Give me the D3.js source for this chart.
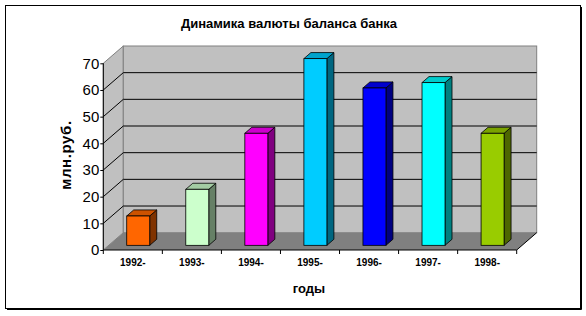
<!DOCTYPE html>
<html>
<head>
<meta charset="utf-8">
<script src="https://cdn.jsdelivr.net/npm/d3@7"></script>
<style>
  body { margin: 0; background: #fff; }
  svg { display: block; font-family: Arial, "Liberation Sans", sans-serif; }
</style>
</head>
<body>
<div id="chart"></div>
<script>
// данные
const years = ['1992-', '1993-', '1994-', '1995-', '1996-', '1997-', '1998-'];
const values = [11, 21, 42, 70, 59, 61, 42];
const frontColors = ['#FF6600', '#CCFFCC', '#FF00FF', '#00CCFF', '#0000FF', '#00FFFF', '#99CC00'];
const yTicks = [0, 10, 20, 30, 40, 50, 60, 70];

const width = 586, height = 316;

// 3D смещение глубины
const depthX = 20, depthY = -17.3;
const dFront = 0.27, dBack = 0.62;

const x = d3.scaleBand().domain(years).range([103.3, 516.7]).paddingInner(0).paddingOuter(0);
const y = d3.scaleLinear().domain([0, 70]).range([250, 63.3]);

const shiftX = d => depthX * d;
const shiftY = d => depthY * d;

const svg = d3.select('#chart').append('svg')
    .attr('width', width)
    .attr('height', height);

// рамка
svg.append('rect')
    .attr('x', 5.5).attr('y', 5.5)
    .attr('width', 575).attr('height', 303)
    .attr('fill', '#fff').attr('stroke', '#000');
svg.append('path')
    .attr('d', 'M581.5,7V309.5H7')
    .attr('fill', 'none').attr('stroke', '#000');

const x0 = x.range()[0], x1 = x.range()[1];
const yTop = y(70), yBot = y(0);

// боковая стенка
svg.append('path')
    .attr('d', `M${x0},${yBot}L${x0},${yTop}L${x0 + depthX},${yTop + depthY}L${x0 + depthX},${yBot + depthY}Z`)
    .attr('fill', '#c0c0c0').attr('stroke', '#808080');

// задняя стенка
svg.append('rect')
    .attr('x', x0 + depthX).attr('y', yTop + depthY)
    .attr('width', x1 - x0).attr('height', yBot - yTop)
    .attr('fill', '#c0c0c0').attr('stroke', '#808080');

// пол
svg.append('path')
    .attr('d', `M${x0},${yBot}L${x0 + depthX},${yBot + depthY}L${x1 + depthX},${yBot + depthY}L${x1},${yBot}Z`)
    .attr('fill', '#808080');
svg.append('line')
    .attr('x1', x1).attr('y1', yBot)
    .attr('x2', x1 + depthX).attr('y2', yBot + depthY)
    .attr('stroke', '#000');

// линии сетки
const grid = yTicks.filter(v => v > 0 && v < 70);
svg.append('g').selectAll('line.back')
    .data(grid)
    .join('line')
    .attr('x1', x0 + depthX).attr('x2', x1 + depthX)
    .attr('y1', d => y(d) + depthY).attr('y2', d => y(d) + depthY)
    .attr('stroke', '#000');
svg.append('g').selectAll('line.side')
    .data(grid)
    .join('line')
    .attr('x1', x0).attr('x2', x0 + depthX)
    .attr('y1', d => y(d)).attr('y2', d => y(d) + depthY)
    .attr('stroke', '#000');

// столбцы
const bw = 23;
const bars = svg.append('g').selectAll('g')
    .data(years.map((yr, i) => ({ yr, v: values[i], c: frontColors[i] })))
    .join('g');

bars.each(function(d) {
    const g = d3.select(this);
    const col = d3.color(d.c);
    const left = x(d.yr) + (x.bandwidth() - bw) / 2 + shiftX(dFront);
    const right = left + bw;
    const bottom = y(0) + shiftY(dFront);
    const top = y(d.v) + shiftY(dFront);
    const dx = shiftX(dBack - dFront), dy = shiftY(dBack - dFront);
    const side = d3.rgb(col.r * 0.5, col.g * 0.5, col.b * 0.5);
    const topC = d3.rgb(col.r * 0.8, col.g * 0.8, col.b * 0.8);
    g.append('path')
        .attr('d', `M${right},${bottom}L${right},${top}L${right + dx},${top + dy}L${right + dx},${bottom + dy}Z`)
        .attr('fill', side).attr('stroke', '#000').attr('stroke-width', 0.8);
    g.append('path')
        .attr('d', `M${left},${top}L${left + dx},${top + dy}L${right + dx},${top + dy}L${right},${top}Z`)
        .attr('fill', topC).attr('stroke', '#000').attr('stroke-width', 0.8);
    g.append('rect')
        .attr('x', left).attr('y', top)
        .attr('width', bw).attr('height', bottom - top)
        .attr('fill', d.c).attr('stroke', '#000').attr('stroke-width', 0.8);
});

// ось Y
const yAxis = svg.append('g')
    .attr('transform', `translate(${x0},0)`)
    .call(d3.axisLeft(y).tickValues(yTicks).tickSize(3).tickPadding(1));
yAxis.selectAll('text').attr('font-size', 15).attr('fill', '#000').attr('font-family', 'Arial, "Liberation Sans", sans-serif');
yAxis.selectAll('line, path').attr('stroke', '#000');
yAxis.select('.domain').attr('d', `M0,${yBot}V${yTop}`);

// ось X
const xAxis = svg.append('g')
    .attr('transform', `translate(0,${yBot})`)
    .call(d3.axisBottom(x).tickSize(0).tickPadding(9));
xAxis.select('.domain').attr('d', `M${x0},0H${x1}`).attr('stroke', '#000');
xAxis.selectAll('text').attr('font-size', 10).attr('font-weight', 'bold').attr('fill', '#000')
    .attr('font-family', 'Arial, "Liberation Sans", sans-serif');
xAxis.selectAll('line.bnd')
    .data([x0].concat(years.map(d => x(d) + x.bandwidth())))
    .join('line')
    .attr('class', 'bnd')
    .attr('x1', d => d).attr('x2', d => d)
    .attr('y1', 0).attr('y2', 4)
    .attr('stroke', '#000');

// заголовки
svg.append('text')
    .attr('x', 289).attr('y', 28)
    .attr('text-anchor', 'middle')
    .attr('font-size', 13).attr('font-weight', 'bold')
    .text('Динамика валюты баланса банка');

svg.append('text')
    .attr('transform', 'translate(71,155) rotate(-90)')
    .attr('text-anchor', 'middle')
    .attr('font-size', 15).attr('font-weight', 'bold')
    .attr('letter-spacing', 0.6)
    .text('млн.руб.');

svg.append('text')
    .attr('x', 309).attr('y', 293)
    .attr('text-anchor', 'middle')
    .attr('font-size', 13).attr('font-weight', 'bold')
    .text('годы');
</script>
</body>
</html>
